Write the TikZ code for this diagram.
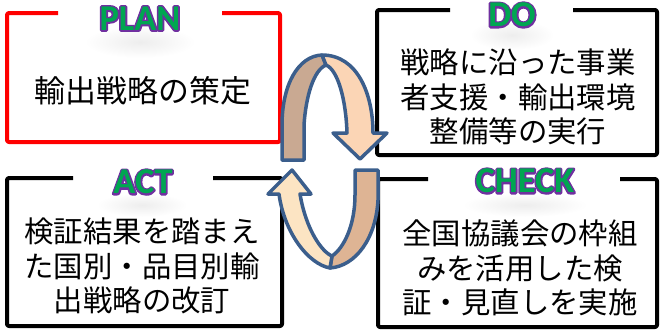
\documentclass[tikz,border=0pt]{standalone}
\usepackage{fontspec}
\newfontfamily\cjk{Noto Sans CJK JP}
\newfontfamily\lab{Carlito}
\definecolor{labgreen}{RGB}{0,166,81}
\definecolor{labpurple}{RGB}{112,48,160}
\definecolor{arrowline}{RGB}{59,94,140}
\definecolor{darktan}{RGB}{201,169,146}
\definecolor{peach}{RGB}{251,213,181}
\definecolor{cream}{RGB}{252,228,195}
\definecolor{tanleg}{RGB}{222,180,148}
% green letters over a stroked purple copy (outline outside the letters)
\newcommand\steplabel[1]{\makebox[0pt][l]{\textcolor{labpurple}{\special{pdf:literal direct 0.439 0.188 0.627 RG 1 Tr 3.4 w 1 j}#1\special{pdf:literal direct 0 Tr}}}\textcolor{labgreen}{#1}}
\tikzset{
  boxline/.style={line width=4bp, line join=round, rounded corners=2bp},
  body/.style={font=\cjk\fontsize{29.5}{34.5}\selectfont, align=center, inner sep=0pt},
  steplab/.style={font=\lab\bfseries\fontsize{36.5}{40}\selectfont, inner sep=0pt},
  glow/.style={inner color=black!7, outer color=white},
  arrowpart/.style={draw=arrowline, line width=3.5bp, line join=round},
}
\begin{document}
\begin{tikzpicture}[x=1bp, y=-1bp]
\useasboundingbox (0,0) rectangle (662,334);
% soft glows under the labels
\shade[glow] (140,42) ellipse [x radius=55, y radius=16];
\shade[glow] (512,35) ellipse [x radius=42, y radius=15];
\shade[glow] (142,205) ellipse [x radius=45, y radius=12];
\shade[glow] (525,205) ellipse [x radius=62, y radius=12];
% boxes with a gap for the label
\draw[boxline, red] (58,13) -- (7,13) -- (7,142) -- (280,142) -- (280,13) -- (222,13);
\draw[boxline, black] (450,10) -- (377,10) -- (377,155) -- (657,155) -- (657,10) -- (573,10);
\draw[boxline, black] (73,178) -- (7,178) -- (7,326) -- (282,326) -- (282,178) -- (213,178);
\draw[boxline, black] (428,179) -- (378,179) -- (378,327) -- (657,327) -- (657,179) -- (620,179);
% labels
\node[steplab] (planlab) at (140,18.5) {\steplabel{PLAN}};
\node[steplab] (dolab) at (512,15) {\steplabel{DO}};
\node[steplab] (actlab) at (143,182) {\steplabel{ACT}};
\node[steplab] (checklab) at (525,181) {\steplabel{CHECK}};
% texts
\node[body, font=\cjk\fontsize{31}{34.5}\selectfont] (plantext) at (143,91) {輸出戦略の策定};
\node[body] (dotext) at (518,97) {戦略に沿った事業\\者支援・輸出環境\\整備等の実行};
\node[body] (acttext) at (142,266) {検証結果を踏まえ\\た国別・品目別輸\\出戦略の改訂};
\node[body] (checktext) at (520,268) {全国協議会の枠組\\みを活用した検\\証・見直しを実施};
% upper curved arrow (PLAN -> DO)
\filldraw[arrowpart, fill=darktan] (282,160) -- (282,125) .. controls (282,85) and (298,56) .. (322,55)
  -- (326,65) .. controls (314,70) and (306,95) .. (304,125) -- (304,160) -- cycle;
\filldraw[arrowpart, fill=peach] (322,55) .. controls (358,55) and (373,95) .. (373,133)
  -- (387,133) -- (360,159) -- (333,133) -- (347,133)
  .. controls (346,100) and (338,70) .. (326,65) -- cycle;
% lower curved arrow (CHECK -> ACT)
\filldraw[arrowpart, fill=tanleg] (332,256) .. controls (344,248) and (355,225) .. (355,195)
  -- (355,170) -- (378,170) -- (378,200) .. controls (376,238) and (356,266) .. (330,268) -- cycle;
\filldraw[arrowpart, fill=cream] (292,170) -- (311,194) -- (300,194)
  .. controls (306,230) and (322,252) .. (332,256) -- (330,268)
  .. controls (308,264) and (284,232) .. (279,194) -- (268,194) -- cycle;
\end{tikzpicture}
\end{document}
